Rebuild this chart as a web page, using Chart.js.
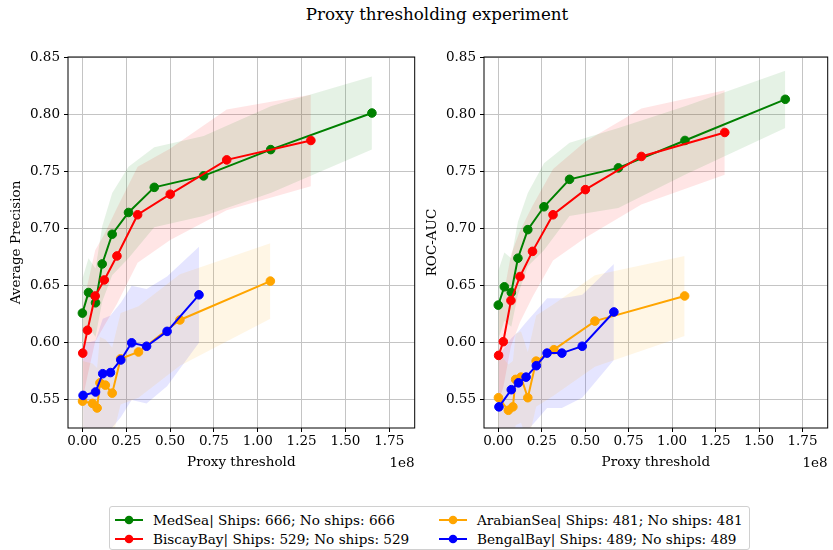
<!DOCTYPE html>
<html>
<head>
<meta charset="utf-8">
<script src="https://cdn.jsdelivr.net/npm/chart.js@4.4.0/dist/chart.umd.min.js"></script>
<style>
  body { margin: 0; background: #fff; }
  #wrap { position: relative; width: 833px; height: 550px; overflow: hidden; font-family: "DejaVu Serif", serif; }
  canvas { position: absolute; top: 0; }
  #title { position: absolute; top: 4px; left: 237px; width: 400px; text-align: center; font-size: 16.7px; }
  #legend { position: absolute; left: 109px; top: 506px; width: 639px; height: 42px; border: 1px solid #d0d0d0; border-radius: 3px; font-size: 13.6px; }
  .item { position: absolute; height: 18px; line-height: 18px; white-space: nowrap; }
  .item svg { position: absolute; left: 0; top: 2px; }
  .item span { position: absolute; left: 39px; }
</style>
</head>
<body>
<div id="wrap">
  <div id="title">Proxy thresholding experiment</div>
  <canvas id="ap" width="420" height="480" style="left:0"></canvas>
  <canvas id="roc" width="413" height="480" style="left:420px"></canvas>
  <div id="legend"></div>
</div>
<script>
// series info
const names = ['MedSea', 'BiscayBay', 'ArabianSea', 'BengalBay'];
const ships = [666, 529, 481, 489];
const noShips = [666, 529, 481, 489];

// proxy thresholds (x 1e8)
const medX = [0, 0.035, 0.075, 0.113, 0.17, 0.263, 0.41, 0.691, 1.074, 1.651];
const biscayX = [0.002, 0.029, 0.073, 0.125, 0.197, 0.315, 0.501, 0.823, 1.303];
const arabianX = [0.001, 0.058, 0.084, 0.1, 0.131, 0.17, 0.218, 0.32, 0.556, 1.072];
const bengalX = [0.004, 0.075, 0.116, 0.16, 0.219, 0.281, 0.366, 0.483, 0.665];

// average precision
const medAP = [0.626, 0.644, 0.635, 0.669, 0.695, 0.714, 0.736, 0.746, 0.769, 0.801];
const biscayAP = [0.591, 0.611, 0.641, 0.655, 0.676, 0.712, 0.730, 0.760, 0.777];
const arabianAP = [0.549, 0.547, 0.543, 0.565, 0.563, 0.556, 0.586, 0.592, 0.620, 0.654];
const bengalAP = [0.554, 0.557, 0.573, 0.574, 0.585, 0.600, 0.597, 0.610, 0.642];
const medAPStd = [0.03, 0.03, 0.03, 0.033, 0.036, 0.04, 0.035, 0.035, 0.038, 0.032];
const biscayAPStd = [0.04, 0.04, 0.04, 0.04, 0.042, 0.042, 0.04, 0.044, 0.04];
const arabianAPStd = [0.035, 0.035, 0.035, 0.04, 0.04, 0.04, 0.04, 0.04, 0.04, 0.033];
const bengalAPStd = [0.045, 0.045, 0.048, 0.05, 0.05, 0.05, 0.05, 0.048, 0.042];

// roc-auc
const medROC = [0.633, 0.649, 0.644, 0.674, 0.699, 0.719, 0.743, 0.753, 0.777, 0.813];
const biscayROC = [0.589, 0.601, 0.637, 0.658, 0.680, 0.712, 0.734, 0.763, 0.784];
const arabianROC = [0.552, 0.541, 0.544, 0.568, 0.570, 0.552, 0.584, 0.594, 0.619, 0.641];
const bengalROC = [0.544, 0.559, 0.565, 0.570, 0.580, 0.591, 0.591, 0.597, 0.627];
const medROCStd = [0.03, 0.03, 0.03, 0.032, 0.032, 0.038, 0.032, 0.035, 0.03, 0.025];
const biscayROCStd = [0.04, 0.04, 0.04, 0.04, 0.04, 0.04, 0.042, 0.042, 0.037];
const arabianROCStd = [0.04, 0.04, 0.04, 0.04, 0.04, 0.04, 0.04, 0.04, 0.04, 0.035];
const bengalROCStd = [0.045, 0.045, 0.045, 0.048, 0.048, 0.048, 0.048, 0.045, 0.042];

const xTicks = [0, 0.25, 0.5, 0.75, 1.0, 1.25, 1.5, 1.75];
const yTicks = [0.55, 0.60, 0.65, 0.70, 0.75, 0.80, 0.85];

const colors = ['#008000', '#ff0000', '#ffa500', '#0000ff'];
const bands = ['rgba(0,128,0,0.1)', 'rgba(255,0,0,0.1)', 'rgba(255,165,0,0.1)', 'rgba(0,0,255,0.1)'];
const xs = [medX, biscayX, arabianX, bengalX];

Chart.defaults.font.family = '"DejaVu Serif", serif';
Chart.defaults.font.size = 13.5;
Chart.defaults.color = '#000';

function pts(x, y) {
  return x.map((v, i) => ({x: v * 1e8, y: y[i]}));
}

const frame = {
  id: 'frame',
  afterDraw(chart) {
    const {ctx, chartArea: a} = chart;
    ctx.save();
    ctx.strokeStyle = '#000';
    ctx.lineWidth = 1;
    ctx.strokeRect(a.left, a.top, a.right - a.left, a.bottom - a.top);
    ctx.font = '13.5px "DejaVu Serif"';
    ctx.fillStyle = '#000';
    ctx.textAlign = 'right';
    ctx.textBaseline = 'middle';
    ctx.fillText('1e8', a.right, 463);
    ctx.restore();
  }
};

function makeChart(id, yLabel, vals, stds, yWidth, padRight, titlePad) {
  const datasets = [];
  // lines: last series on top
  for (let s = 3; s >= 0; s--) {
    datasets.push({
      data: pts(xs[s], vals[s]),
      borderColor: colors[s], backgroundColor: colors[s],
      pointBackgroundColor: colors[s], pointBorderColor: colors[s],
      borderWidth: 2, pointRadius: 4.3, pointBorderWidth: 1, fill: false
    });
  }
  // std bands
  for (let s = 0; s < 4; s++) {
    const up = vals[s].map((v, i) => v + stds[s][i]);
    const lo = vals[s].map((v, i) => v - stds[s][i]);
    datasets.push({data: pts(xs[s], up), borderWidth: 0, pointRadius: 0, fill: '+1', backgroundColor: bands[s]});
    datasets.push({data: pts(xs[s], lo), borderWidth: 0, pointRadius: 0, fill: false});
  }
  return new Chart(document.getElementById(id), {
    type: 'line',
    data: {datasets},
    plugins: [frame],
    options: {
      responsive: false, animation: false, devicePixelRatio: 1,
      layout: {padding: {top: 57, right: padRight, bottom: 0, left: 0}},
      plugins: {legend: {display: false}, tooltip: {enabled: false}},
      elements: {line: {tension: 0}},
      scales: {
        x: {
          type: 'linear', min: -0.082e8, max: 1.895e8,
          afterBuildTicks: (sc) => { sc.ticks = xTicks.map(v => ({value: v * 1e8})); },
          afterFit: (sc) => { sc.height = 52; },
          ticks: {callback: (v) => (v / 1e8).toFixed(2), padding: 1, maxRotation: 0, autoSkip: false},
          grid: {color: '#c4c4c4', tickColor: '#000', tickLength: 4},
          border: {display: false},
          title: {display: true, text: 'Proxy threshold', padding: {top: 0, bottom: 9}}
        },
        y: {
          type: 'linear', min: 0.5255, max: 0.85,
          afterBuildTicks: (sc) => { sc.ticks = yTicks.map(v => ({value: v})); },
          afterFit: (sc) => { sc.width = yWidth; },
          ticks: {callback: (v) => v.toFixed(2), padding: 4, autoSkip: false},
          grid: {color: '#c4c4c4', tickColor: '#000', tickLength: 4},
          border: {display: false},
          title: {display: true, text: yLabel, padding: {top: titlePad, bottom: 0}}
        }
      }
    }
  });
}

makeChart('ap', 'Average Precision',
  [medAP, biscayAP, arabianAP, bengalAP],
  [medAPStd, biscayAPStd, arabianAPStd, bengalAPStd], 68, 5, 8);
makeChart('roc', 'ROC-AUC',
  [medROC, biscayROC, arabianROC, bengalROC],
  [medROCStd, biscayROCStd, arabianROCStd, bengalROCStd], 64, 3, 4);

// legend, two columns
const legend = document.getElementById('legend');
const colLeft = [4, 328];
const rowTop = [4, 23];
names.forEach((n, i) => {
  const col = Math.floor(i / 2), row = i % 2;
  const div = document.createElement('div');
  div.className = 'item';
  div.style.left = colLeft[col] + 'px';
  div.style.top = rowTop[row] + 'px';
  div.innerHTML = '<svg width="30" height="14"><line x1="1" y1="7" x2="29" y2="7" stroke="' + colors[i] +
    '" stroke-width="2"/><circle cx="15" cy="7" r="4.3" fill="' + colors[i] + '"/></svg>' +
    '<span>' + n + '| Ships: ' + ships[i] + '; No ships: ' + noShips[i] + '</span>';
  legend.appendChild(div);
});
</script>
</body>
</html>
